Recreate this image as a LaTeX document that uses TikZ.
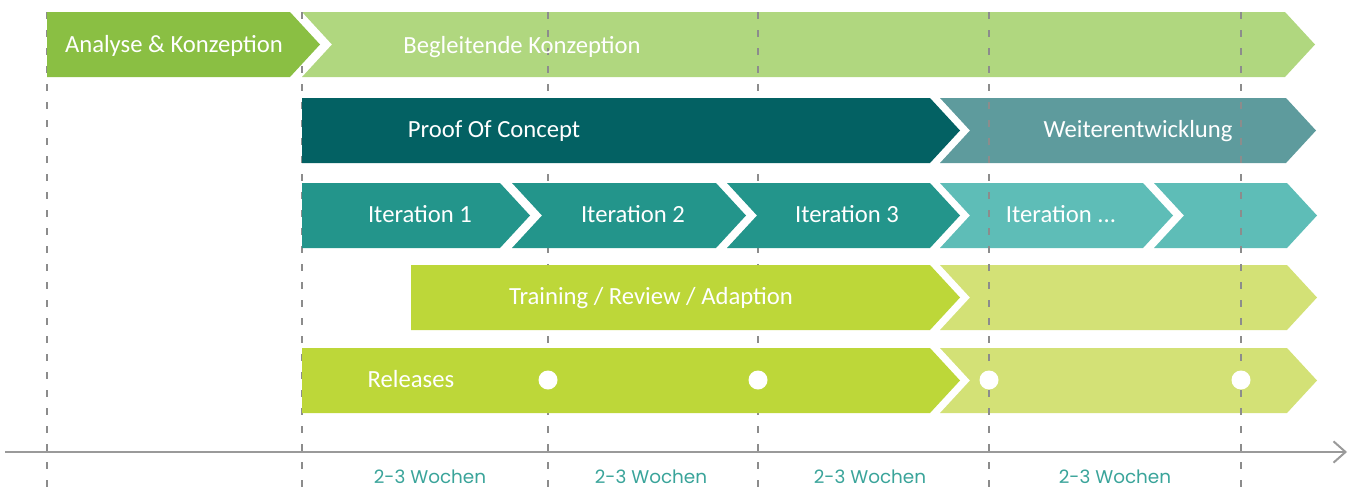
\documentclass[tikz,border=0pt]{standalone}
\usepackage{fontspec}
\setmainfont{Carlito}
\newfontfamily\weekfont{Poppins}
\usetikzlibrary{arrows.meta}

\definecolor{anaGreen}{HTML}{8ABF43}
\definecolor{lightGreen}{HTML}{B0D77F}
\definecolor{darkTeal}{HTML}{036163}
\definecolor{midTeal}{HTML}{5E9B9D}
\definecolor{teal}{HTML}{23958B}
\definecolor{lightTeal}{HTML}{5EBDB7}
\definecolor{lime}{HTML}{BDD739}
\definecolor{paleLime}{HTML}{D3E176}
\definecolor{gridGray}{HTML}{8C8C8C}
\definecolor{axisGray}{HTML}{9A9A9A}
\definecolor{weekTeal}{HTML}{3AA49A}

\tikzset{
  grid/.style={draw=gridGray, line width=1pt, dash pattern=on 5.5pt off 8pt},
  axis/.style={draw=axisGray, line width=1.5pt, -{Straight Barb[length=9pt,width=16pt,line width=1.5pt]}},
  phase/.style={text=white, font=\fontsize{18.5}{20}\selectfont, inner sep=0pt, anchor=base},
  weeks/.style={text=weekTeal, font=\weekfont\fontsize{13.8}{15}\selectfont, inner sep=0pt, anchor=base},
}

\begin{document}
\begin{tikzpicture}[x=0.75pt,y=-0.75pt]
\useasboundingbox (0,0) rectangle (1352,493);
% light bars, the grid shows through them
\foreach \xa/\xb/\ya/\d/\col in {302/1285/12/30/lightGreen, 940/1286/98/30/midTeal,
    940/1143/183/30/lightTeal, 1154/1287/183/30/lightTeal,
    940/1287/265/30/paleLime, 940/1287/348/30/paleLime}
\fill[\col] (\xa,\ya) -- (\xb,\ya) -- (\xb+30,\ya+32.5) -- (\xb,\ya+65)
  -- (\xa,\ya+65) -- (\xa+\d,\ya+32.5) -- cycle;
% draw dashed grid lines
\foreach \x [count=\i] in {47,302,548,758,989,1241}
\draw[grid] (\x,12) coordinate (g\i) -- (\x,493);
% dark bars
\foreach \xa/\xb/\ya/\d/\col in {47/290/12/0/anaGreen, 302/930/98/0/darkTeal,
    302/500/183/0/teal, 512/716/183/30/teal, 727/930/183/30/teal,
    411/930/265/0/lime, 302/930/348/0/lime}
\fill[\col] (\xa,\ya) -- (\xb,\ya) -- (\xb+30,\ya+32.5) -- (\xb,\ya+65)
  -- (\xa,\ya+65) -- (\xa+\d,\ya+32.5) -- cycle;
% release dots
\foreach \x in {548,758,989,1241}
\fill[white] (\x,380) circle[radius=9.5];
% draw time axis
\coordinate (axisL) at (5,452);
\coordinate (axisR) at (1347,452);
\draw[axis] (axisL) -- (axisR);
% bar labels
\node[phase] (ana) at (174,52) {Analyse \& Konzeption};
\node[phase] (begl) at (522,53) {Begleitende Konzeption};
\node[phase] (poc) at (494,137) {Proof Of Concept};
\node[phase] (weiter) at (1138,137) {Weiterentwicklung};
\node[phase] (it1) at (420,222) {Iteration 1};
\node[phase] (it2) at (633,222) {Iteration 2};
\node[phase] (it3) at (847,222) {Iteration 3};
\node[phase] (itn) at (1061,222) {Iteration ...};
\node[phase] (train) at (651,304) {Training / Review / Adaption};
\node[phase] (rel) at (411,387) {Releases};
% week labels below the axis
\node[weeks] (wk1) at (430,483) {2-3 Wochen};
\node[weeks] (wk2) at (651,483) {2-3 Wochen};
\node[weeks] (wk3) at (870,483) {2-3 Wochen};
\node[weeks] (wk4) at (1115,483) {2-3 Wochen};
\end{tikzpicture}
\end{document}
